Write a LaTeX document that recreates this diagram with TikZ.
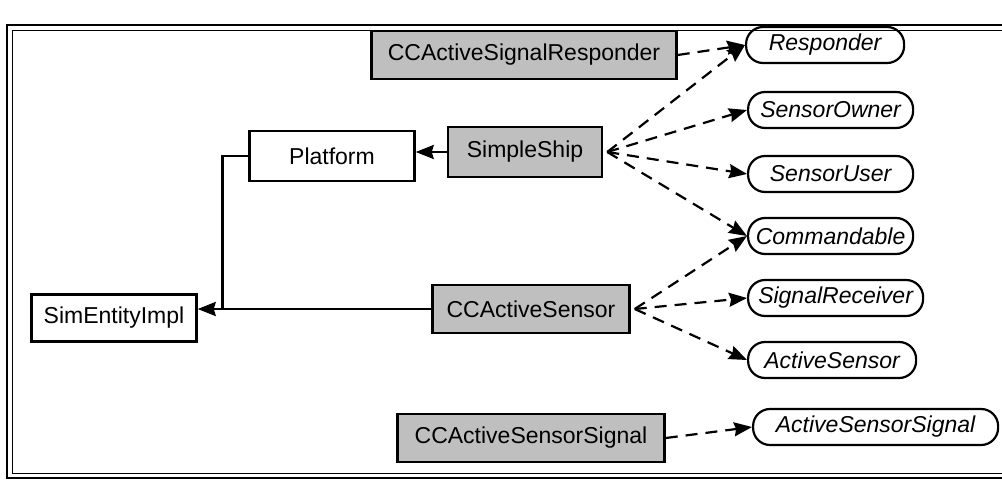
\documentclass[tikz,border=0pt]{standalone}
\usepackage{fontspec}
\setmainfont{Liberation Sans}
\usetikzlibrary{arrows.meta}
\begin{document}
\begin{tikzpicture}[x=1pt,y=-1pt,
  cls/.style={draw, line width=2.5pt, minimum height=48pt, inner sep=0pt, font=\fontsize{23}{27}\selectfont},
  shaded/.style={cls, fill=black!25},
  iface/.style={draw, line width=2.2pt, rounded corners=17pt, minimum height=36pt, minimum width=165pt, inner sep=0pt, font=\fontsize{23}{27}\selectfont\itshape, anchor=west},
  solidarr/.style={line width=2.5pt, -{Stealth[length=18pt,width=14pt,inset=2pt]}},
  dasharr/.style={line width=2.2pt, dash pattern=on 12pt off 8pt, -{Stealth[length=18pt,width=14pt,inset=2pt]}},
  link/.style={line width=2.5pt}
]
\useasboundingbox (0,0) rectangle (1002,482);
\begin{scope}
\clip (0,0) rectangle (1002,482);
\draw[line width=2pt] (7,25) rectangle (1020,478);
\draw[line width=1pt] (12,30) rectangle (1020,473);
\end{scope}

\node[shaded, minimum width=305pt] (resp) at (524,55) {CCActiveSignalResponder};
\node[shaded, minimum width=154pt, minimum height=50pt] (ship) at (525,152) {SimpleShip};
\node[cls, minimum width=165pt, minimum height=50pt] (plat) at (332,156) {Platform};
\node[cls, minimum width=165pt, minimum height=47pt] (sim) at (114,318) {SimEntityImpl};
\node[shaded, minimum width=197pt] (sens) at (531,309) {CCActiveSensor};
\node[shaded, minimum width=267pt] (sig) at (531,438) {CCActiveSensorSignal};

\node[iface, minimum width=158pt] (iresp) at (745,45) {Responder};
\node[iface] (iown) at (747,110) {SensorOwner};
\node[iface] (iuser) at (747,174) {SensorUser};
\node[iface] (icmd) at (747,236) {Commandable};
\node[iface, minimum width=175pt] (irecv) at (747,298) {SignalReceiver};
\node[iface, minimum width=168pt] (iact) at (747,360) {ActiveSensor};
\node[iface, minimum width=245pt] (isig) at (752,427) {ActiveSensorSignal};

\draw[solidarr] (ship.west) -- (ship.west -| plat.east);
\draw[link] (plat.west) -- ++(-26,0) |- (sens.west);
\draw[solidarr] (sens.west) -- (sens.west -| sim.east);

\foreach \t in {iresp,iown,iuser,icmd}
  \draw[dasharr] ([xshift=4pt]ship.east) -- (\t.west);
\foreach \t in {icmd,irecv,iact}
  \draw[dasharr] ([xshift=4pt]sens.east) -- (\t.west);
\draw[dasharr] (resp.east) -- (iresp.west);
\draw[dasharr] (sig.east) -- (isig.west);
\end{tikzpicture}
\end{document}
